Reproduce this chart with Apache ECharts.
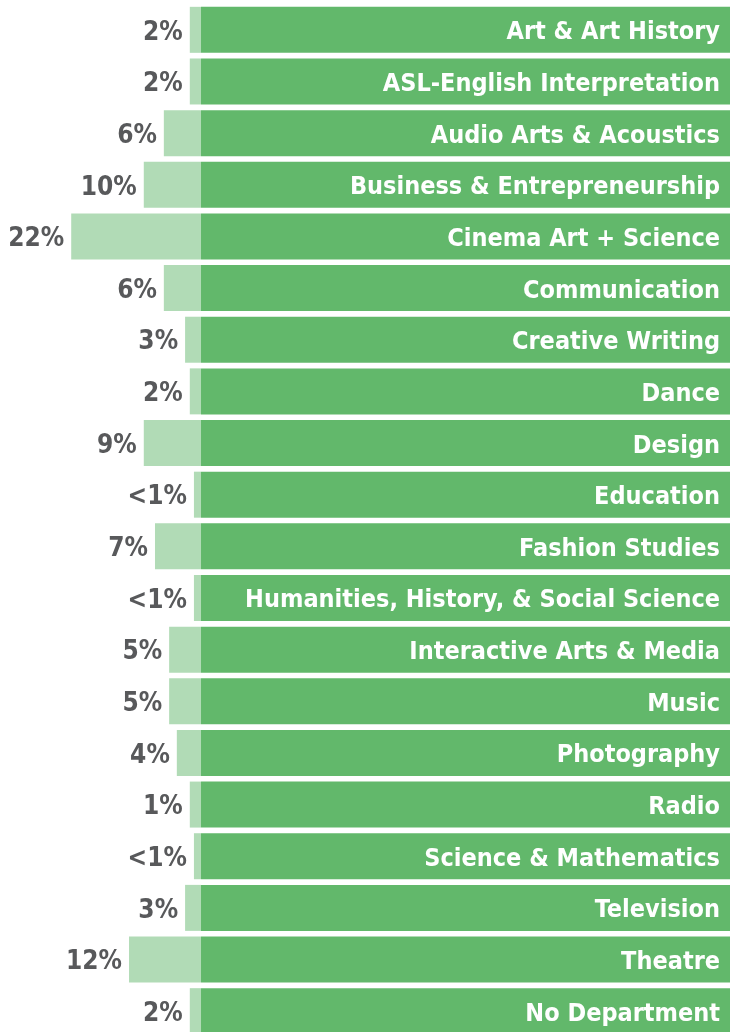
<!DOCTYPE html>
<html>
<head>
<meta charset="utf-8">
<script src="https://cdn.jsdelivr.net/npm/echarts@6/dist/echarts.min.js"></script>
<style>
  html, body { margin: 0; padding: 0; background: #fff; overflow: hidden; }
  /* slightly taller than the window: the last bar is cut at the bottom edge */
  #chart { width: 730px; height: 1040px; }
</style>
</head>
<body>
<div id="chart"></div>
<script>
// departments, top to bottom
const departments = [
  'Art & Art History', 'ASL-English Interpretation', 'Audio Arts & Acoustics',
  'Business & Entrepreneurship', 'Cinema Art + Science', 'Communication',
  'Creative Writing', 'Dance', 'Design', 'Education', 'Fashion Studies',
  'Humanities, History, & Social Science', 'Interactive Arts & Media', 'Music',
  'Photography', 'Radio', 'Science & Mathematics', 'Television', 'Theatre',
  'No Department'
];
// share of students (%)
const shares = [1.9, 1.9, 6.3, 9.7, 22, 6.3, 2.7, 1.9, 9.7, 1.2, 7.8, 1.2, 5.4, 5.4, 4.1, 1.9, 1.2, 2.7, 12.2, 1.9];
// printed labels
const shareLabels = ['2%', '2%', '6%', '10%', '22%', '6%', '3%', '2%', '9%', '<1%', '7%', '<1%', '5%', '5%', '4%', '1%', '<1%', '3%', '12%', '2%'];

const axisMin = -34.07;
const axisMax = 89.66;

const font = "'DejaVu Sans Condensed', 'DejaVu Sans', sans-serif";

let chart = echarts.init(document.getElementById('chart'));
chart.setOption({
  animation: false,
  grid: { left: 0, right: 0, top: 4, height: 1033 },
  xAxis: { type: 'value', min: axisMin, max: axisMax, show: false },
  yAxis: { type: 'category', data: departments, inverse: true, show: false },
  series: [
    {
      // light bars growing to the left
      type: 'bar',
      stack: 'row',
      barWidth: 46,
      data: shares.map(v => -v),
      itemStyle: { color: '#b1dbb6' },
      label: {
        show: true,
        position: 'left',
        distance: 7,
        offset: [0, 3],
        formatter: p => shareLabels[p.dataIndex],
        color: '#58595b',
        fontFamily: font,
        fontWeight: 'bold',
        fontSize: 26
      }
    },
    {
      // full dark bars holding the department names
      type: 'bar',
      stack: 'row',
      barWidth: 46,
      data: departments.map(() => axisMax),
      itemStyle: { color: '#62b86b' },
      label: {
        show: true,
        position: 'insideRight',
        distance: 10,
        offset: [0, 3],
        formatter: p => departments[p.dataIndex],
        color: '#fff',
        fontFamily: font,
        fontWeight: 'bold',
        fontSize: 25
      }
    }
  ]
});
</script>
</body>
</html>
